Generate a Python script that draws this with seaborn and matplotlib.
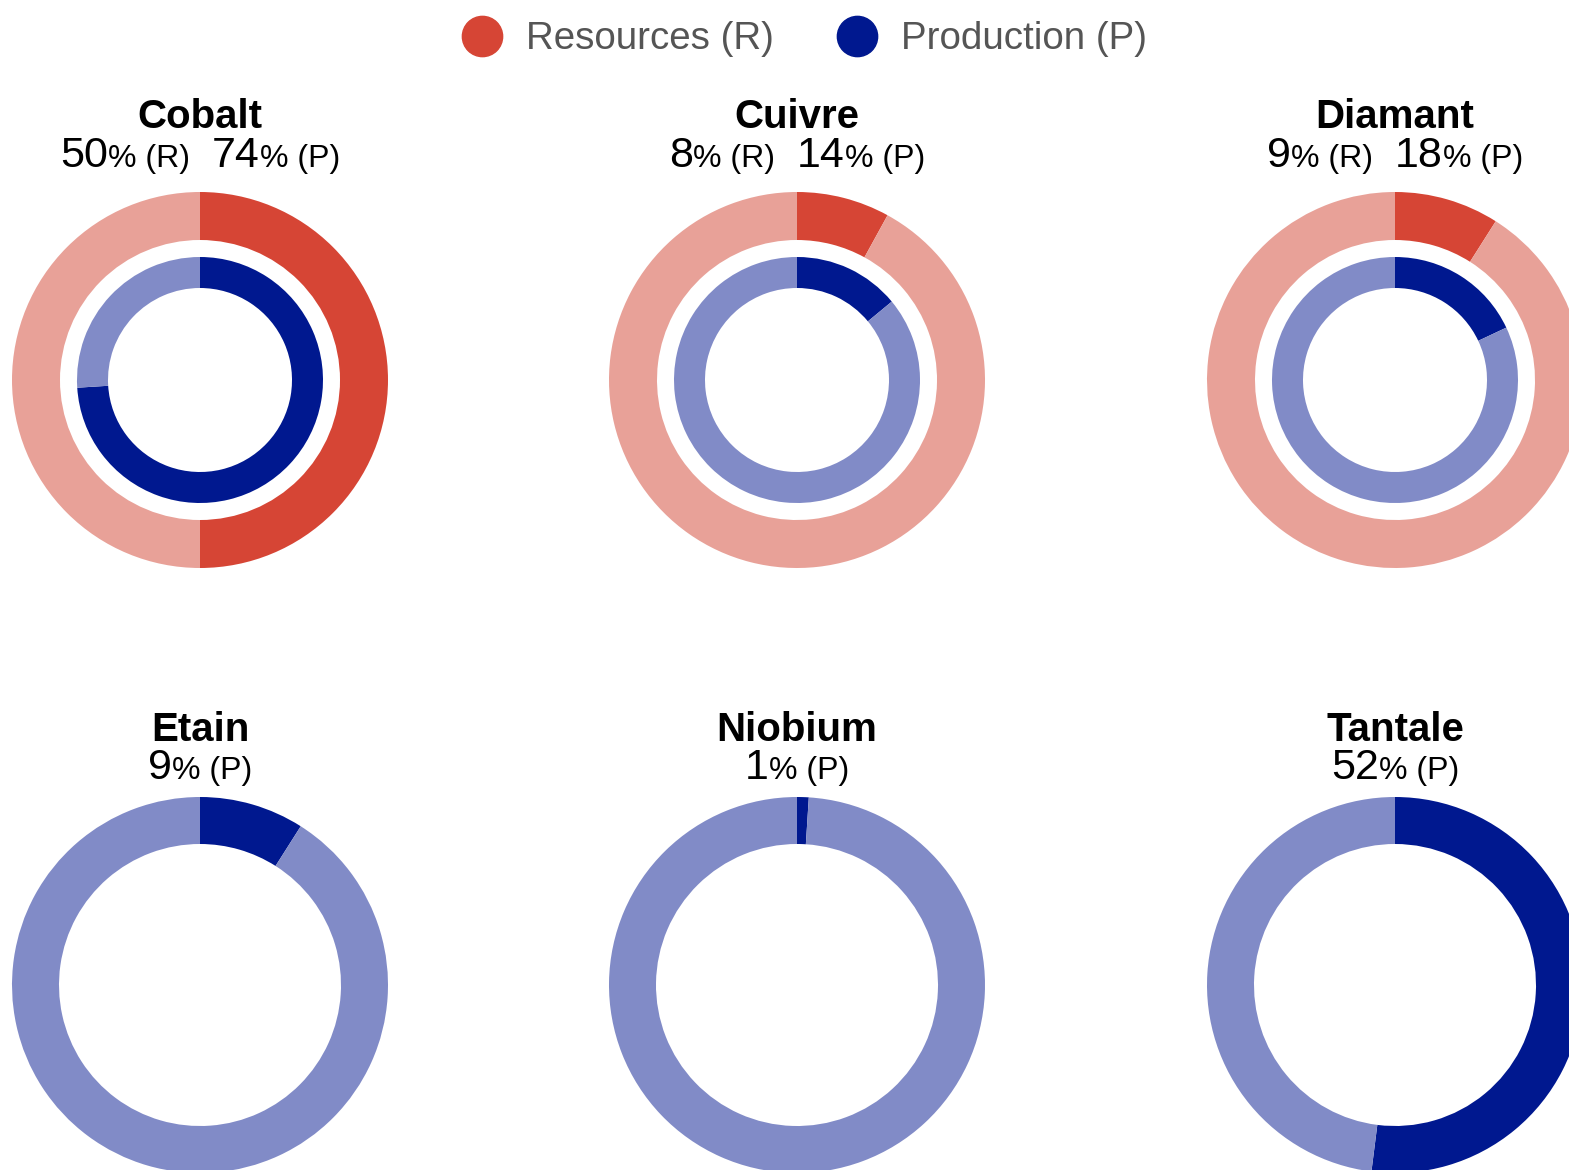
import numpy as np
import matplotlib
matplotlib.use("Agg")
import matplotlib.pyplot as plt
import seaborn as sns
from matplotlib.lines import Line2D

# ---- data ----
minerals = ["Cobalt", "Cuivre", "Diamant", "Etain", "Niobium", "Tantale"]
resources_pct = [50, 8, 9, None, None, None]
production_pct = [74, 14, 18, 9, 1, 52]
legend_labels = ["Resources (R)", "Production (P)"]

RES_DARK = "#D64535"
RES_LIGHT = "#E8A198"
PROD_DARK = "#00188F"
PROD_LIGHT = "#818BC7"

sns.set_theme(style="white")
plt.rcParams['font.family'] = ['Liberation Sans', 'DejaVu Sans']

W, H = 1569, 1170
fig = plt.figure(figsize=(W / 100, H / 100), dpi=100)
fig.patch.set_facecolor("white")

centers = [(200, 380), (797, 380), (1395, 380), (200, 985), (797, 985), (1395, 985)]
R = 188.0

renderer = fig.canvas.get_renderer()


def mixed_text(cx, base_y, parts):
    """parts: list of (text, size) or ('GAP', px)."""
    objs = []
    total = 0.0
    for txt, val in parts:
        if txt == "GAP":
            objs.append((None, val))
            total += val
            continue
        t = fig.text(0, 1 - base_y / H, txt, fontsize=val, ha='left', va='baseline', color='black')
        w = t.get_window_extent(renderer).width
        objs.append((t, w))
        total += w
    x = cx - total / 2
    for t, w in objs:
        if t is not None:
            t.set_x(x / W)
        x += w


BIG = 31
SMALL = 23

for i, name in enumerate(minerals):
    cx, cy = centers[i]
    ax = fig.add_axes([(cx - R) / W, (H - cy - R) / H, 2 * R / W, 2 * R / H])
    res = resources_pct[i]
    prod = production_pct[i]
    if res is not None:
        ax.pie([res, 100 - res], colors=[RES_DARK, RES_LIGHT], startangle=90,
               counterclock=False, radius=1.0,
               wedgeprops=dict(width=48 / R, linewidth=0))
        ax.pie([prod, 100 - prod], colors=[PROD_DARK, PROD_LIGHT], startangle=90,
               counterclock=False, radius=123 / R,
               wedgeprops=dict(width=31 / R, linewidth=0))
        title_y, sub_y = 128, 167
        parts = [(f"{res}", BIG), ("% (R)", SMALL), ("GAP", 22), (f"{prod}", BIG), ("% (P)", SMALL)]
    else:
        ax.pie([prod, 100 - prod], colors=[PROD_DARK, PROD_LIGHT], startangle=90,
               counterclock=False, radius=1.0,
               wedgeprops=dict(width=47 / R, linewidth=0))
        title_y, sub_y = 741, 779
        parts = [(f"{prod}", BIG), ("% (P)", SMALL)]
    ax.set_xlim(-1, 1)
    ax.set_ylim(-1, 1)
    ax.set_aspect('auto')
    ax.axis('off')
    fig.text(cx / W, 1 - title_y / H, name, ha='center', va='baseline',
             fontsize=29, fontweight='bold', color='black')
    mixed_text(cx, sub_y, parts)

# legend
handles = [Line2D([], [], marker='o', markersize=29, linestyle='none', color=RES_DARK),
           Line2D([], [], marker='o', markersize=29, linestyle='none', color=PROD_DARK)]
fig.legend(handles, legend_labels, loc='center', bbox_to_anchor=(805 / W, 1 - 39 / H),
           ncol=2, frameon=False, fontsize=27.7, labelcolor='#555555',
           handlelength=1.0, handletextpad=0.65, columnspacing=1.65,
           borderpad=0, borderaxespad=0)

fig.savefig("out.png", dpi=100, facecolor="white")
